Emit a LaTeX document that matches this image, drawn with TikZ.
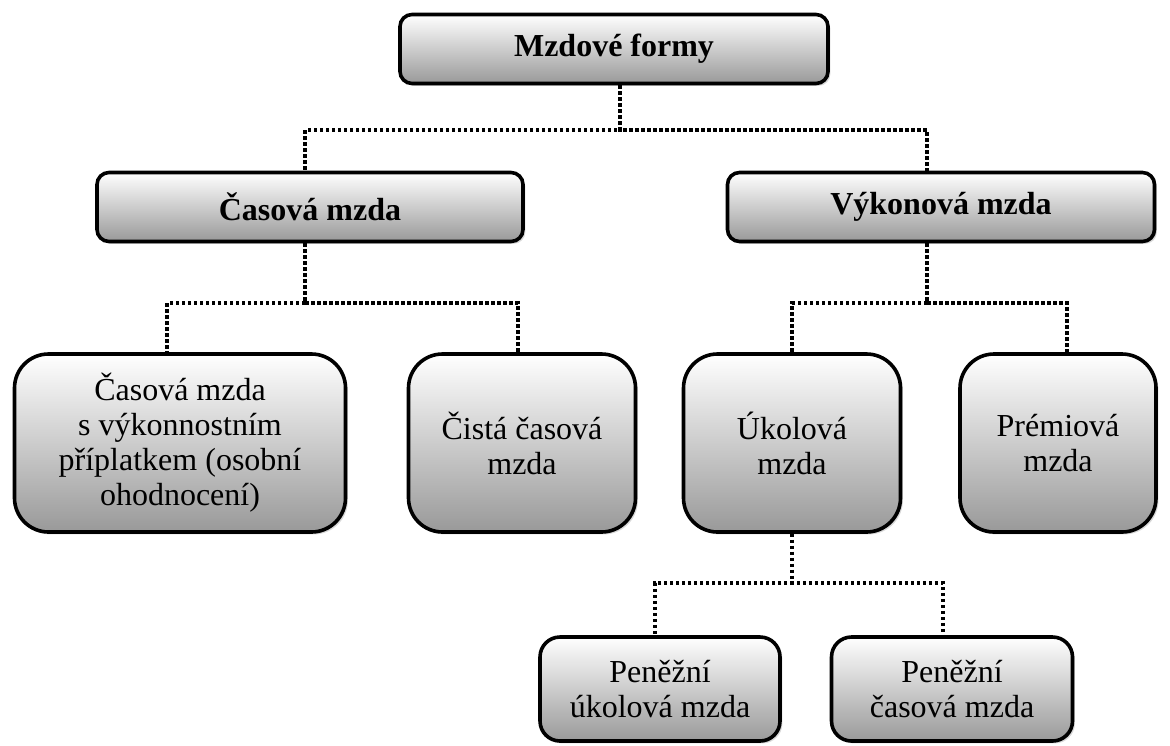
\documentclass[tikz,border=0pt]{standalone}
\usepackage{fontspec}
\setmainfont{Liberation Serif}
\usetikzlibrary{shadows}
\tikzset{
  box/.style={draw, line width=1.8pt, top color=white, bottom color=black!40,
    drop shadow={shadow xshift=1.2pt, shadow yshift=-1.2pt, fill=black!30},
    inner sep=0pt, align=center, font=\fontsize{16}{17.5}\selectfont},
  head/.style={box, rounded corners=6pt, minimum height=34.5pt, font=\fontsize{16}{17.5}\selectfont\bfseries},
  leaf/.style={box, rounded corners=17pt, minimum height=89pt},
  pen/.style={box, rounded corners=10pt, minimum height=52pt},
  conn/.style={line width=1.6pt, dash pattern=on 1.6pt off 1.4pt}
}
\begin{document}
\begin{tikzpicture}[x=0.5pt,y=-0.5pt]
\useasboundingbox (0,0) rectangle (1170,745);
\node(mzdy) at (614,49)[head, minimum width=214pt]        {Mzdové formy};
\node(cas) at (310,207)[head, minimum width=213pt]        {Časová mzda};
\node(vyk) at (941,207)[head, minimum width=213.5pt]      {Výkonová mzda};
\node(casvyk) at (180,443)[leaf, minimum width=165.5pt]   {Časová mzda\\ s výkonnostním\\ příplatkem (osobní\\ ohodnocení)};
\node(cista) at (522,443)[leaf, minimum width=113.5pt]    {Čistá časová\\ mzda};
\node(ukol) at (792,443)[leaf, minimum width=108.5pt]     {Úkolová\\ mzda};
\node(prem) at (1058,443)[leaf, minimum width=98pt]       {Prémiová\\ mzda};
\node(penukol) at (660,689)[pen, minimum width=120pt]     {Peněžní\\ úkolová mzda};
\node(pencas) at (952,689)[pen, minimum width=120.5pt]    {Peněžní\\ časová mzda};
\coordinate(bar1) at (0,130);
\coordinate(bar2) at (0,303);
\coordinate(bar3) at (0,583);

% first level
\draw[conn] ([xshift=3pt]mzdy.south) -- ([xshift=3pt]mzdy.south |- bar1) -| ([xshift=-2.5pt]cas.north);
\draw[conn] ([xshift=3pt]mzdy.south) -- ([xshift=3pt]mzdy.south |- bar1) -| ([xshift=-7pt]vyk.north);
% second level
\draw[conn] ([xshift=-2.5pt]cas.south) -- ([xshift=-2.5pt]cas.south |- bar2) -| ([xshift=-6.5pt]casvyk.north);
\draw[conn] ([xshift=-2.5pt]cas.south) -- ([xshift=-2.5pt]cas.south |- bar2) -| ([xshift=-2pt]cista.north);
\draw[conn] ([xshift=-7pt]vyk.south) -- ([xshift=-7pt]vyk.south |- bar2) -| (ukol.north);
\draw[conn] ([xshift=-7pt]vyk.south) -- ([xshift=-7pt]vyk.south |- bar2) -| ([xshift=4.5pt]prem.north);
% third level
\draw[conn] (ukol.south) -- (ukol.south |- bar3) -| ([xshift=-2.5pt]penukol.north);
\draw[conn] (ukol.south) -- (ukol.south |- bar3) -| ([xshift=-4.5pt]pencas.north);

\end{tikzpicture}
\end{document}
